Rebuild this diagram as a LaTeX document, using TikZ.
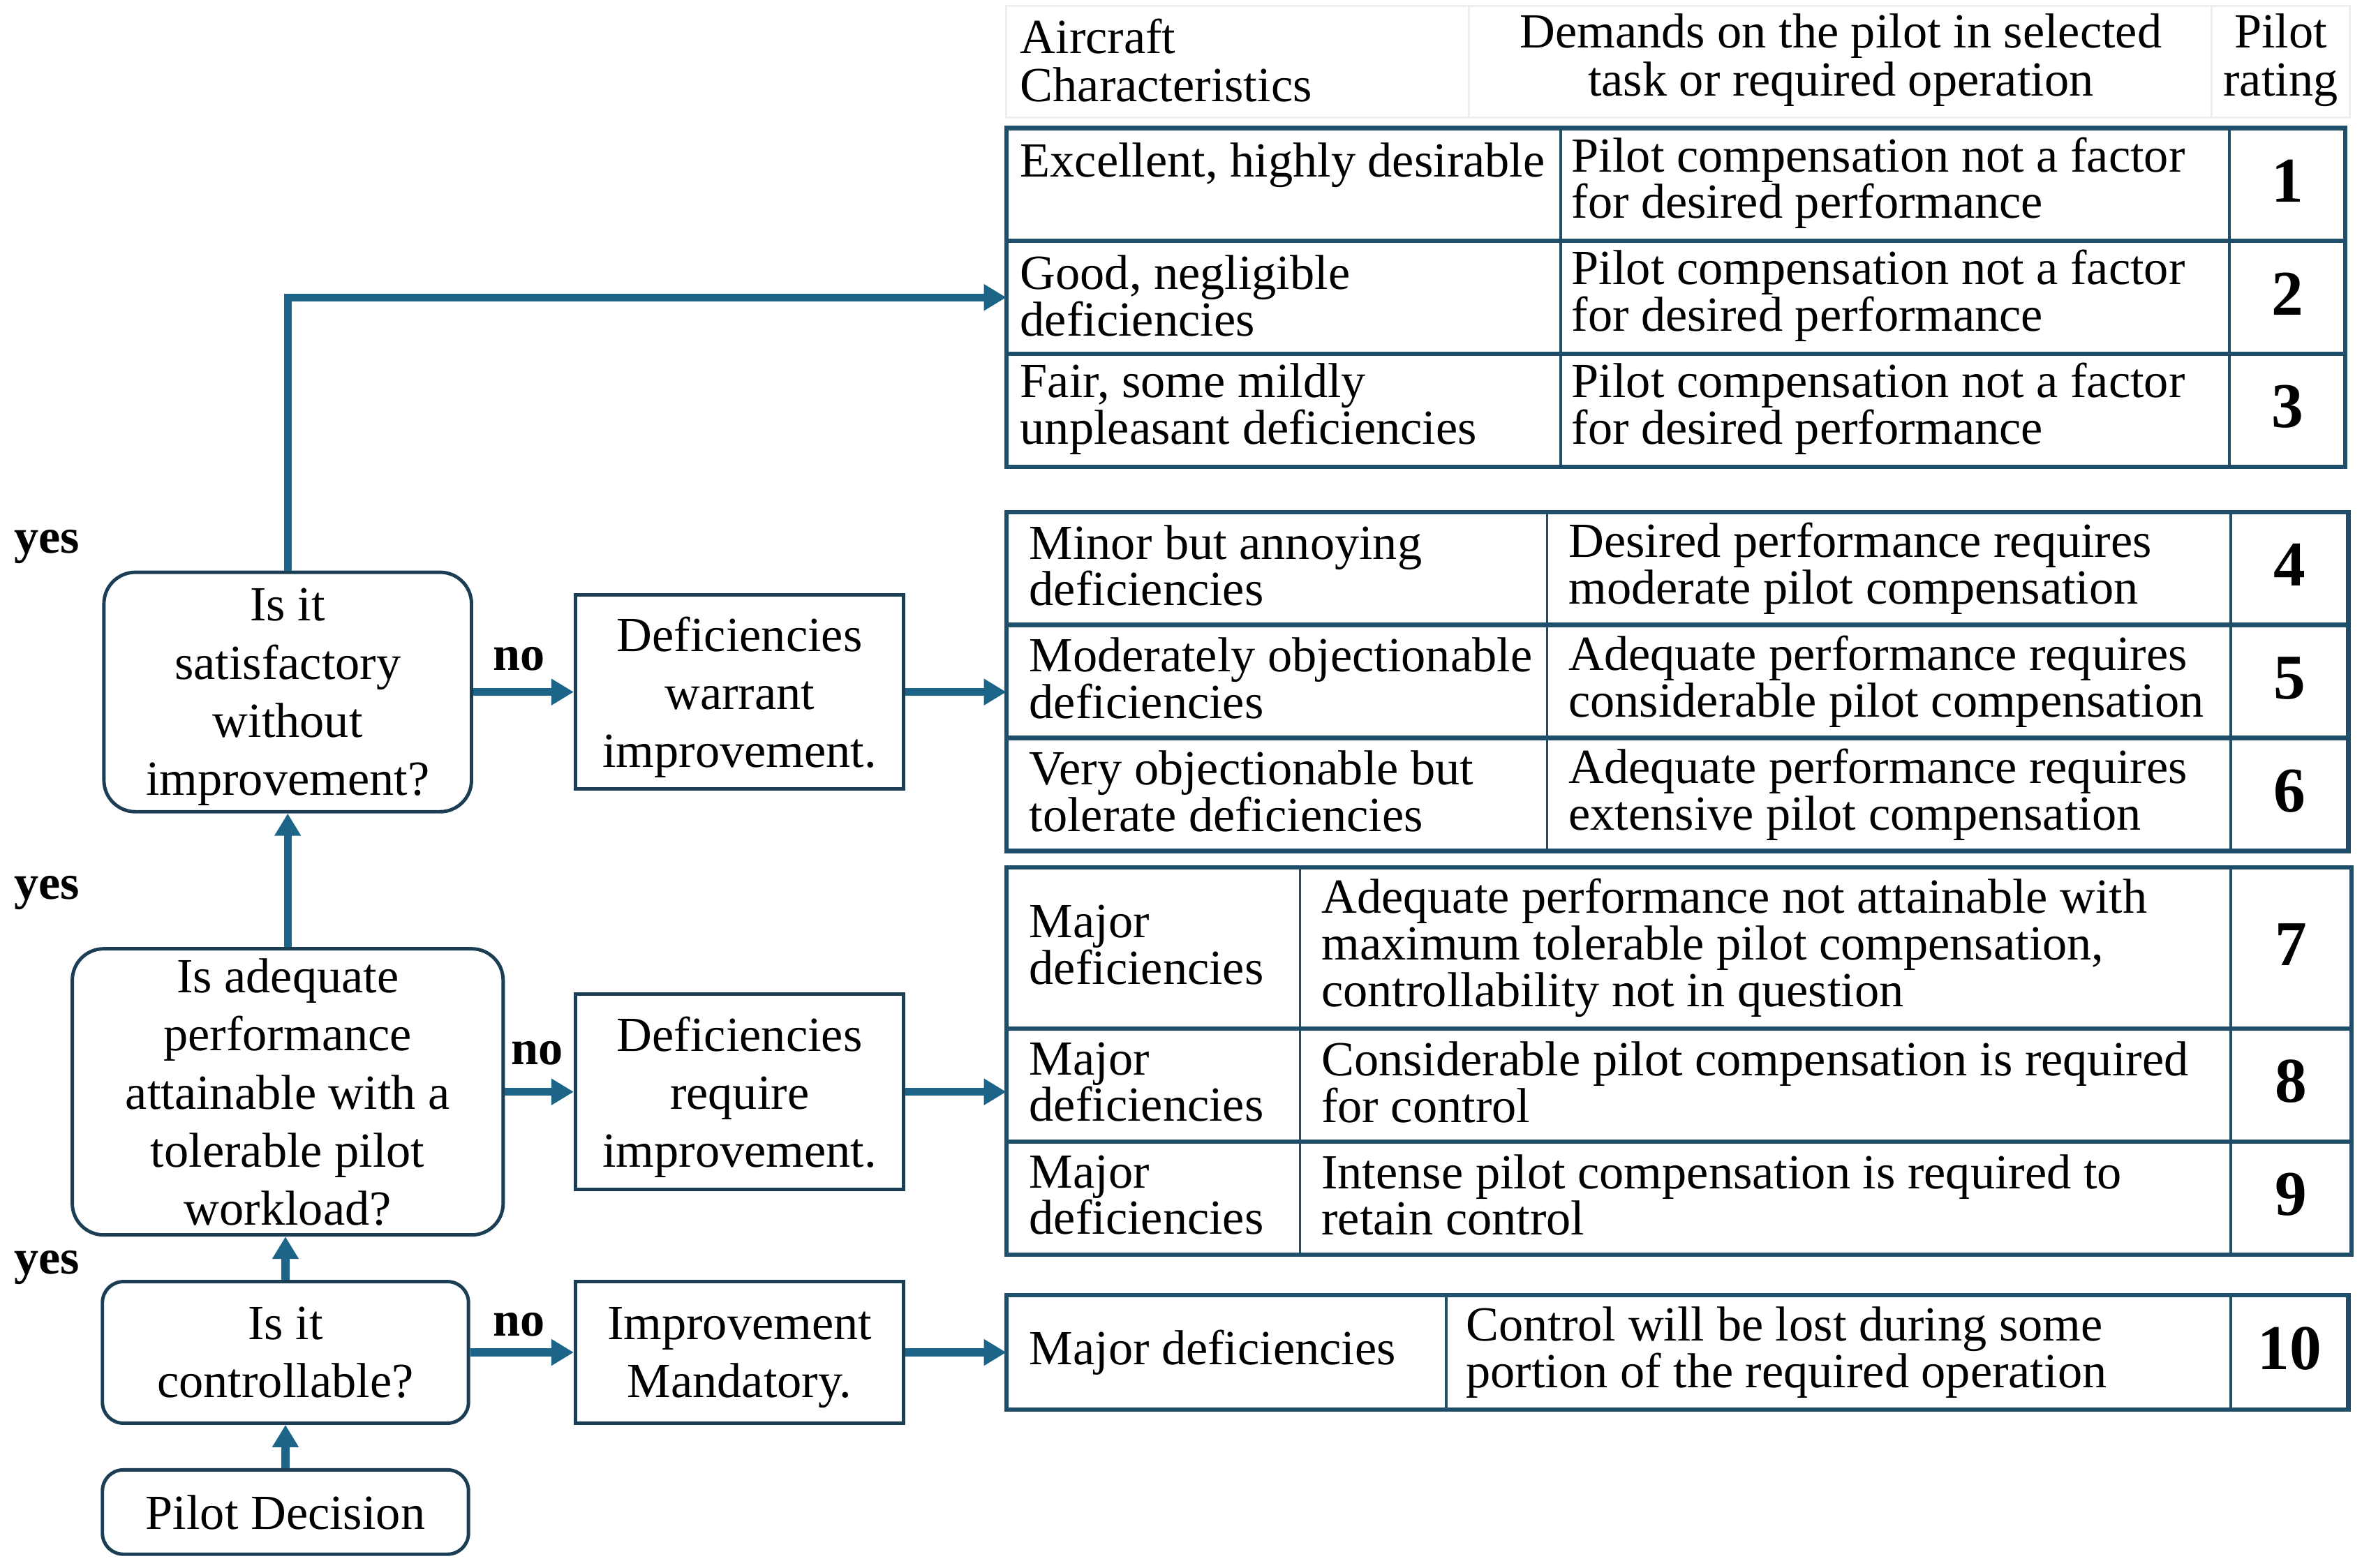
\documentclass[tikz,border=0pt]{standalone}
\usepackage{fontspec}
\setmainfont{Liberation Serif}
\usetikzlibrary{arrows.meta}
\newlength\uu
\setlength\uu{0.021582cm}
\definecolor{boxc}{RGB}{27,62,84}
\definecolor{tblc}{RGB}{30,78,105}
\definecolor{arrc}{RGB}{28,100,136}
\definecolor{hdrc}{RGB}{238,238,238}
\newcommand\tcell[5]{%
  \pgfmathsetmacro\cw{#4-#2}\pgfmathsetmacro\ch{#5-#3}%
  \node[cell, minimum width=\cw\uu, minimum height=\ch\uu] (#1) at (#2,#3) {};}
\newcommand\hcell[5]{%
  \pgfmathsetmacro\cw{#4-#2}\pgfmathsetmacro\ch{#5-#3}%
  \node[hcellst, minimum width=\cw\uu, minimum height=\ch\uu] (#1) at (#2,#3) {};}
\begin{document}
\begin{tikzpicture}[x=0.021582cm, y=-0.021582cm,
  flow/.style={draw=boxc, line width=1.4pt, align=center, inner sep=0pt, text depth=0pt,
    font=\fontsize{20}{23.7}\selectfont},
  dec/.style={flow, rounded corners=0.45cm},
  decs/.style={flow, rounded corners=0.3cm},
  arr/.style={draw=arrc, line width=3.2pt, -{Triangle[length=0.32cm,width=0.36cm]}},
  cell/.style={draw=tblc, line width=1.1pt, anchor=north west, inner sep=0pt, outer sep=0pt},
  hcellst/.style={draw=hdrc, line width=0.8pt, anchor=north west, inner sep=0pt, outer sep=0pt},
  tline/.style={draw=tblc, line width=1.8pt, line cap=rect},
  ctext/.style={anchor=west, align=left, inner sep=0pt, font=\fontsize{20}{19}\selectfont},
  htext/.style={inner sep=0pt, font=\fontsize{20}{19.6}\selectfont},
  num/.style={inner sep=0pt, yshift=0.05cm, font=\fontsize{26}{26}\selectfont\bfseries},
  yn/.style={anchor=base west, inner sep=0pt, font=\fontsize{20}{20}\selectfont\bfseries}
]
\useasboundingbox (0,0) rectangle (1568,1041);

% ---------- header ----------
\hcell{h1}{668}{4}{975}{78}
\hcell{h2}{975}{4}{1468}{78}
\hcell{h3}{1468}{4}{1560}{78}
\node[htext, anchor=west, align=left] (ht1) at (677,40) {Aircraft\\Characteristics};
\node[htext, align=center] (ht2) at (1222,40) {Demands on the pilot in selected\\task or required operation};
\node[htext, align=center] (ht3) at (1514,40) {Pilot\\rating};

% ---------- group 1 ----------
\tcell{c1a}{668}{85}{1036}{160}\tcell{c1b}{1036}{85}{1480}{160}\tcell{c1c}{1480}{85}{1557}{160}
\tcell{c2a}{668}{160}{1036}{235}\tcell{c2b}{1036}{160}{1480}{235}\tcell{c2c}{1480}{160}{1557}{235}
\tcell{c3a}{668}{235}{1036}{310}\tcell{c3b}{1036}{235}{1480}{310}\tcell{c3c}{1480}{235}{1557}{310}
\draw[tline] (c1a.north west) rectangle (c3c.south east);
\draw[tline] (c1a.south west) -- (c1c.south east);
\draw[tline] (c2a.south west) -- (c2c.south east);
\node[ctext] (t1a) at ([xshift=9\uu,yshift=1\uu]c1a.west) {Excellent, highly desirable\\\mbox{}};
\node[ctext] (t1b) at ([xshift=7\uu,yshift=1\uu]c1b.west) {Pilot compensation not a factor\\for desired performance};
\node[num] (n1) at (c1c.center) {1};
\node[ctext] (t2a) at ([xshift=9\uu,yshift=1\uu]c2a.west) {Good, negligible\\deficiencies};
\node[ctext] (t2b) at ([xshift=7\uu,yshift=1\uu]c2b.west) {Pilot compensation not a factor\\for desired performance};
\node[num] (n2) at (c2c.center) {2};
\node[ctext] (t3a) at ([xshift=9\uu,yshift=1\uu]c3a.west) {Fair, some mildly\\unpleasant deficiencies};
\node[ctext] (t3b) at ([xshift=7\uu,yshift=1\uu]c3b.west) {Pilot compensation not a factor\\for desired performance};
\node[num] (n3) at (c3c.center) {3};

% ---------- group 2 ----------
\tcell{c4a}{668}{340}{1027}{415}\tcell{c4b}{1027}{340}{1481}{415}\tcell{c4c}{1481}{340}{1559}{415}
\tcell{c5a}{668}{415}{1027}{490}\tcell{c5b}{1027}{415}{1481}{490}\tcell{c5c}{1481}{415}{1559}{490}
\tcell{c6a}{668}{490}{1027}{565}\tcell{c6b}{1027}{490}{1481}{565}\tcell{c6c}{1481}{490}{1559}{565}
\draw[tline] (c4a.north west) rectangle (c6c.south east);
\draw[tline] (c4a.south west) -- (c4c.south east);
\draw[tline] (c5a.south west) -- (c5c.south east);
\node[ctext] (t4a) at ([xshift=15\uu,yshift=2\uu]c4a.west) {Minor but annoying\\deficiencies};
\node[ctext] (t4b) at ([xshift=14\uu]c4b.west) {Desired performance requires\\moderate pilot compensation};
\node[num] (n4) at (c4c.center) {4};
\node[ctext] (t5a) at ([xshift=15\uu,yshift=2\uu]c5a.west) {Moderately objectionable\\deficiencies};
\node[ctext] (t5b) at ([xshift=14\uu]c5b.west) {Adequate performance requires\\considerable pilot compensation};
\node[num] (n5) at (c5c.center) {5};
\node[ctext] (t6a) at ([xshift=15\uu,yshift=2\uu]c6a.west) {Very objectionable but\\tolerate deficiencies};
\node[ctext] (t6b) at ([xshift=14\uu]c6b.west) {Adequate performance requires\\extensive pilot compensation};
\node[num] (n6) at (c6c.center) {6};

% ---------- group 3 ----------
\tcell{c7a}{668}{576}{863}{683}\tcell{c7b}{863}{576}{1481}{683}\tcell{c7c}{1481}{576}{1561}{683}
\tcell{c8a}{668}{683}{863}{758}\tcell{c8b}{863}{683}{1481}{758}\tcell{c8c}{1481}{683}{1561}{758}
\tcell{c9a}{668}{758}{863}{833}\tcell{c9b}{863}{758}{1481}{833}\tcell{c9c}{1481}{758}{1561}{833}
\draw[tline] (c7a.north west) rectangle (c9c.south east);
\draw[tline] (c7a.south west) -- (c7c.south east);
\draw[tline] (c8a.south west) -- (c8c.south east);
\node[ctext] (t7a) at ([xshift=15\uu,yshift=2\uu]c7a.west) {Major\\deficiencies};
\node[ctext] (t7b) at ([xshift=14\uu]c7b.west) {Adequate performance not attainable with\\maximum tolerable pilot compensation,\\controllability not in question};
\node[num] (n7) at (c7c.center) {7};
\node[ctext] (t8a) at ([xshift=15\uu,yshift=2\uu]c8a.west) {Major\\deficiencies};
\node[ctext] (t8b) at ([xshift=14\uu,yshift=2\uu]c8b.west) {Considerable pilot compensation is required\\for control};
\node[num] (n8) at (c8c.center) {8};
\node[ctext] (t9a) at ([xshift=15\uu,yshift=2\uu]c9a.west) {Major\\deficiencies};
\node[ctext] (t9b) at ([xshift=14\uu,yshift=2\uu]c9b.west) {Intense pilot compensation is required to\\retain control};
\node[num] (n9) at (c9c.center) {9};

% ---------- group 4 ----------
\tcell{c10a}{668}{860}{960}{936}\tcell{c10b}{960}{860}{1481}{936}\tcell{c10c}{1481}{860}{1559}{936}
\draw[tline] (c10a.north west) rectangle (c10c.south east);
\node[ctext] (t10a) at ([xshift=15\uu]c10a.west) {Major deficiencies};
\node[ctext] (t10b) at ([xshift=13\uu]c10b.west) {Control will be lost during some\\portion of the required operation};
\node[num] (n10) at (c10c.center) {10};

% ---------- flowchart ----------
\node[dec, minimum width=244\uu, minimum height=159\uu] (sat) at (191,459.5)
  {Is it\\satisfactory\\without\\improvement?};
\node[flow, minimum width=218\uu, minimum height=129\uu] (warr) at (491,459.5)
  {Deficiencies\\warrant\\improvement.};
\node[dec, minimum width=286\uu, minimum height=190\uu] (adq) at (191,725)
  {Is adequate\\performance\\attainable with a\\tolerable pilot\\workload?};
\node[flow, minimum width=218\uu, minimum height=130\uu] (req) at (491,725)
  {Deficiencies\\require\\improvement.};
\node[decs, minimum width=243\uu, minimum height=94\uu] (ctrl) at (189.5,898)
  {Is it\\controllable?};
\node[flow, minimum width=218\uu, minimum height=94\uu] (mand) at (491,898)
  {Improvement\\Mandatory.};
\node[decs, minimum width=243\uu, minimum height=56\uu] (pd) at (189.5,1004)
  {Pilot Decision};

% labels
\node[yn] (y1) at (9,367) {yes};
\node[yn] (y2) at (9,597) {yes};
\node[yn] (y3) at (9,846) {yes};
\node[yn] (no1) at (327,445) {no};
\node[yn] (no2) at (339,707) {no};
\node[yn] (no3) at (327,887) {no};

% connectors
\draw[arr] (pd.north) -- (ctrl.south);
\draw[arr] (ctrl.north) -- (ctrl.north |- adq.south);
\draw[arr] (adq.north) -- (adq.north |- sat.south);
\draw[arr] (sat.north) |- (c2a.west);
\draw[arr] (sat.east) -- (warr.west);
\draw[arr] (warr.east) -- (warr.east -| c5a.west);
\draw[arr] (adq.east) -- (req.west);
\draw[arr] (req.east) -- (req.east -| c8a.west);
\draw[arr] (ctrl.east) -- (ctrl.east -| mand.west);
\draw[arr] (mand.east) -- (mand.east -| c10a.west);
\end{tikzpicture}
\end{document}
